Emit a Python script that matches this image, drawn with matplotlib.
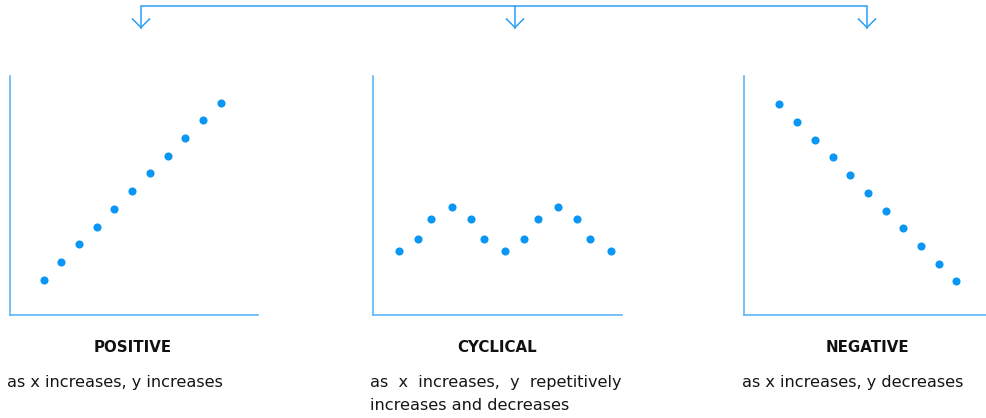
import matplotlib
matplotlib.use("Agg")
import matplotlib.pyplot as plt

# ---- data ----
pos_x = [1.9, 2.9, 3.9, 4.9, 5.9, 6.9, 7.9, 8.9, 9.9, 10.9, 11.9]
pos_y = [2.0, 3.0, 4.0, 5.0, 6.0, 7.0, 8.0, 9.0, 10.0, 11.0, 12.0]

cyc_x = [1.47, 2.54, 3.28, 4.46, 5.54, 6.27, 7.46, 8.53, 9.32, 10.45, 11.53, 12.26, 13.45]
cyc_y = [3.62, 4.29, 5.42, 6.10, 5.42, 4.29, 3.62, 4.29, 5.42, 6.10, 5.42, 4.29, 3.62]

neg_x = [2.0, 3.0, 4.0, 5.0, 6.0, 7.0, 8.0, 9.0, 10.0, 11.0, 12.0]
neg_y = [11.9, 10.9, 9.9, 8.9, 7.9, 6.9, 5.9, 4.9, 3.9, 2.9, 1.9]

titles = ["POSITIVE", "CYCLICAL", "NEGATIVE"]
subtitles = ["as x increases, y increases",
             "as  x  increases,  y  repetitively\nincreases and decreases",
             "as x increases, y decreases"]

# ---- style ----
W, H = 986, 418
DPI = 100
DOT = "#0a96f5"
AXC = "#5cb6f7"
ARC = "#2a9ff5"
SCALE = 17.7  # px per data unit
FONT = "DejaVu Sans"

fig = plt.figure(figsize=(W / DPI, H / DPI), dpi=DPI)

def add_panel(x0, y0, x1, y1, xs, ys):
    ax = fig.add_axes([x0 / W, 1 - y0 / H, (x1 - x0) / W, (y0 - y1) / H])
    ax.set_xlim(0, (x1 - x0) / SCALE)
    ax.set_ylim(0, (y0 - y1) / SCALE)
    ax.scatter(xs, ys, s=34, color=DOT, linewidths=0, zorder=3, clip_on=False)
    for s in ["top", "right"]:
        ax.spines[s].set_visible(False)
    for s in ["left", "bottom"]:
        ax.spines[s].set_color(AXC)
        ax.spines[s].set_linewidth(1.2)
    ax.set_xticks([])
    ax.set_yticks([])
    ax.patch.set_alpha(0)
    return ax

add_panel(10, 315, 258, 76, pos_x, pos_y)
add_panel(373, 315, 622, 76, cyc_x, cyc_y)
add_panel(744, 315, 986, 76, neg_x, neg_y)

ov = fig.add_axes([0, 0, 1, 1])
ov.set_xlim(0, W)
ov.set_ylim(H, 0)
ov.axis("off")
ov.patch.set_alpha(0)

lw = 1.1
ov.plot([141, 867], [6, 6], color=ARC, lw=lw, solid_capstyle="butt")
for ax_ in [141, 515, 867]:
    ov.plot([ax_, ax_], [6, 27.5], color=ARC, lw=lw)
    ov.plot([ax_ - 8.5, ax_, ax_ + 8.5], [19, 27.5, 19], color=ARC, lw=lw,
            solid_joinstyle="miter")

title_cx = [133, 497, 867]
for cx, t in zip(title_cx, titles):
    ov.text(cx, 348, t, ha="center", va="center",
            fontsize=10.8, fontweight="bold", family=FONT, color="#111111")

sub_x = [7, 370, 742]
for sx, st in zip(sub_x, subtitles):
    ov.text(sx, 374.5, st, ha="left", va="top", fontsize=11.6,
            family=FONT, color="#161616", linespacing=1.72)

fig.savefig("out.png", dpi=DPI)
